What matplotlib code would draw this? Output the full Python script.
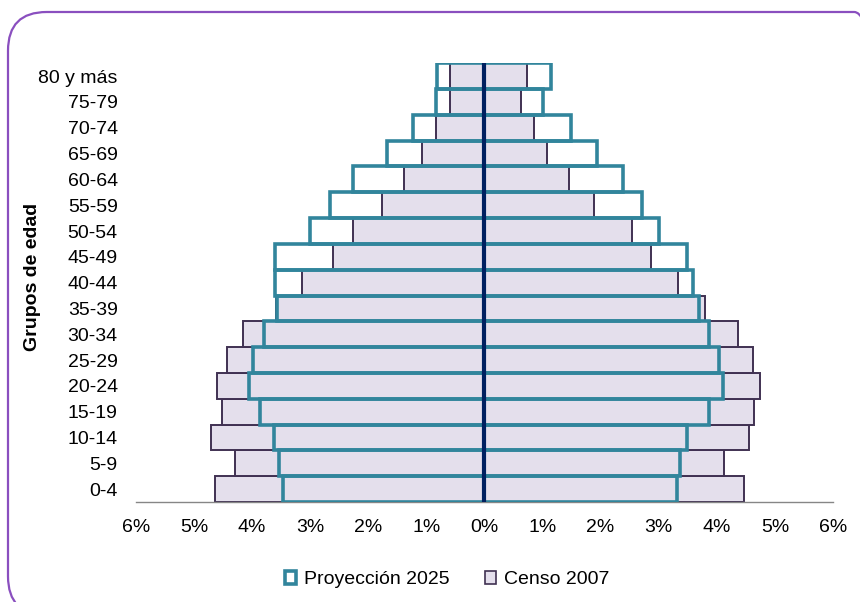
import matplotlib.pyplot as plt
from matplotlib.patches import FancyBboxPatch, Patch
from matplotlib.ticker import FuncFormatter

plt.rcParams["font.family"] = ["Liberation Sans", "DejaVu Sans"]

grupos = ["0-4", "5-9", "10-14", "15-19", "20-24", "25-29", "30-34", "35-39",
          "40-44", "45-49", "50-54", "55-59", "60-64", "65-69", "70-74",
          "75-79", "80 y más"]

# % de la poblacion (izquierda = hombres, derecha = mujeres)
proy_izq = [3.47, 3.54, 3.63, 3.87, 4.06, 3.98, 3.80, 3.57, 3.61, 3.61,
            3.01, 2.65, 2.27, 1.67, 1.23, 0.83, 0.82]
proy_der = [3.31, 3.37, 3.48, 3.87, 4.10, 4.04, 3.87, 3.70, 3.59, 3.48,
            3.00, 2.71, 2.38, 1.93, 1.49, 1.00, 1.14]
censo_izq = [4.63, 4.29, 4.70, 4.52, 4.60, 4.43, 4.15, 3.58, 3.14, 2.60,
             2.27, 1.77, 1.38, 1.08, 0.84, 0.60, 0.59]
censo_der = [4.46, 4.13, 4.56, 4.64, 4.74, 4.62, 4.36, 3.80, 3.34, 2.87,
             2.54, 1.89, 1.45, 1.07, 0.85, 0.63, 0.73]

teal = "#31859c"
lila = "#e4dfec"
borde_censo = "#403152"

fig = plt.figure(figsize=(8.6, 6.02), dpi=100)
ax = fig.add_axes([0.158, 0.166, 0.8106, 0.729])

y = list(range(len(grupos)))
ax.barh(y, [-v for v in censo_izq], height=1.0, color=lila,
        edgecolor=borde_censo, linewidth=1.4, zorder=2)
ax.barh(y, censo_der, height=1.0, color=lila,
        edgecolor=borde_censo, linewidth=1.4, zorder=2)
ax.barh(y, [-v for v in proy_izq], height=1.0, fill=False,
        edgecolor=teal, linewidth=2.6, zorder=3)
ax.barh(y, proy_der, height=1.0, fill=False,
        edgecolor=teal, linewidth=2.6, zorder=3)
ax.axvline(0, color="#002060", linewidth=3, zorder=4)

ax.set_xlim(-6, 6)
ax.set_ylim(-0.5, len(grupos) - 0.5)
ax.set_xticks(range(-6, 7))
ax.xaxis.set_major_formatter(FuncFormatter(lambda v, p: f"{abs(int(v))}%"))
ax.set_yticks(y)
ax.set_yticklabels(grupos)
ax.tick_params(axis="both", length=0, labelsize=14)
ax.tick_params(axis="y", pad=13)
ax.tick_params(axis="x", pad=12)
for s in ["left", "right", "top"]:
    ax.spines[s].set_visible(False)
ax.spines["bottom"].set_color("#868686")
ax.spines["bottom"].set_linewidth(1)

fig.text(33 / 860, 1 - 277 / 602, "Grupos de edad", rotation=90,
         fontsize=14, fontweight="bold", ha="center", va="center")

handles = [Patch(facecolor="white", edgecolor=teal, linewidth=2.6,
                 label="Proyección 2025"),
           Patch(facecolor=lila, edgecolor=borde_censo, linewidth=1.2,
                 label="Censo 2007")]
fig.legend(handles=handles, loc="center", bbox_to_anchor=(0.52, 0.037),
           ncol=2, frameon=False, fontsize=14, handlelength=0.6,
           handleheight=0.6, handletextpad=0.4, columnspacing=1.8)

# marco redondeado que se sale por la derecha y por abajo
marco = FancyBboxPatch((8 / 860, 1 - 615 / 602), 880 / 860, 603 / 602,
                       boxstyle="round,pad=0,rounding_size=0.045",
                       transform=fig.transFigure, fill=False,
                       edgecolor="#8a4fbf", linewidth=1.6,
                       mutation_aspect=860 / 602)
marco.set_width(885 / 860)
fig.patches.append(marco)

fig.savefig("out.png", dpi=100)
